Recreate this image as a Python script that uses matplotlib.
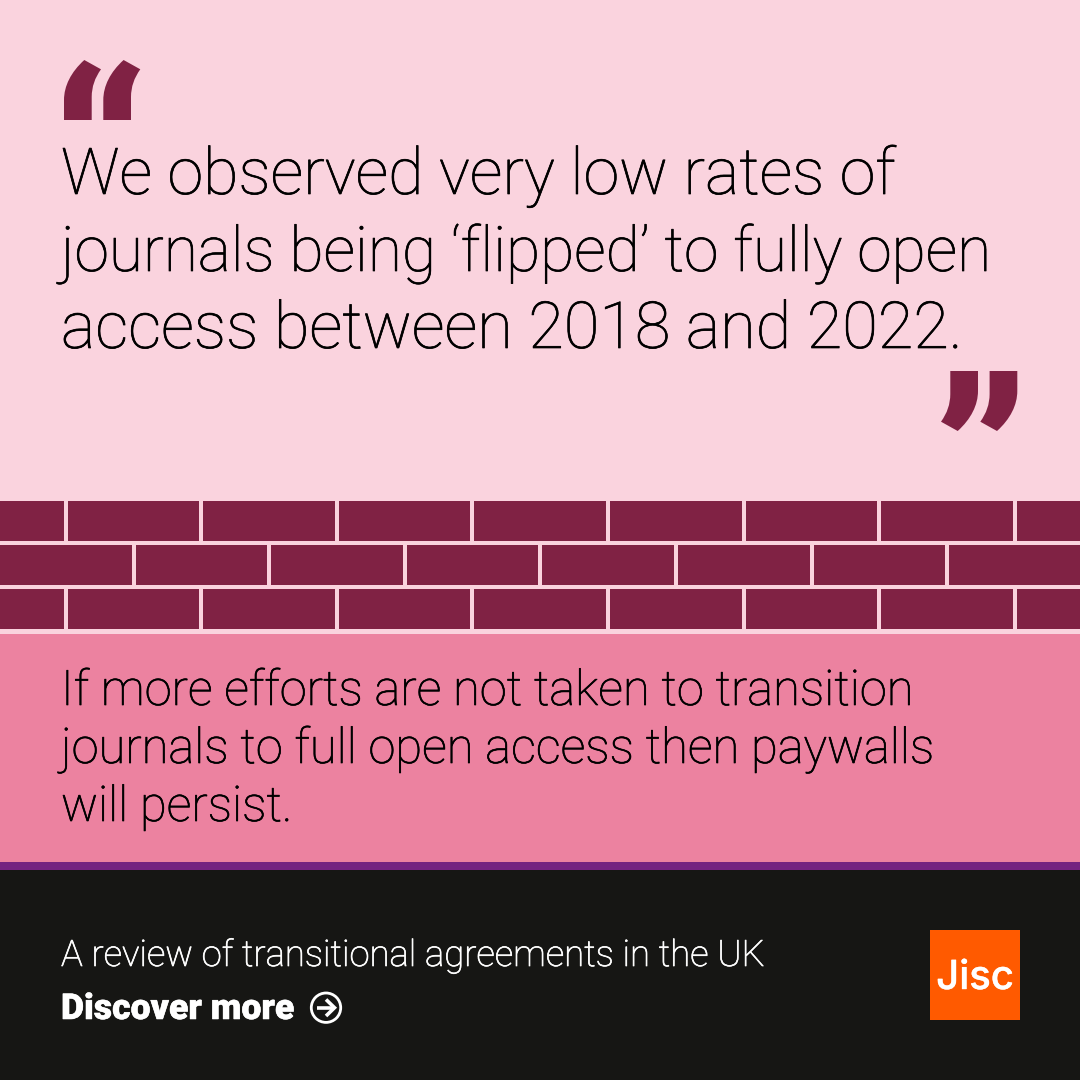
import matplotlib
matplotlib.use("Agg")
import matplotlib.pyplot as plt
import matplotlib.patheffects as pe
from matplotlib.patches import PathPatch, Circle, Rectangle
from matplotlib.path import Path

PALE = "#FAD3DE"
BRICK = "#802244"
PINK = "#EC82A0"
PURPLE = "#752380"
BLACK = "#161614"
ORANGE = "#FF5A00"

quote_lines = ["We observed very low rates of",
               "journals being ‘flipped’ to fully open",
               "access between 2018 and 2022."]
quote_sizes = [64.6, 62.3, 64.9]
body_lines = ["If more efforts are not taken to transition",
              "journals to full open access then paywalls",
              "will persist."]
footer_title = "A review of transitional agreements in the UK"
footer_link = "Discover more"
logo_text = "Jisc"

# mortar gaps in the wall, one list per row
row_tops = [501, 545, 589]
row_gaps = [[65.5, 201, 336.5, 472, 608, 743.5, 879, 1014.7],
            [133.5, 269, 404.5, 540, 676, 811.5, 946.5],
            [65.5, 201, 336.5, 472, 608, 743.5, 879, 1014.7]]

fig = plt.figure(figsize=(10.8, 10.8), dpi=100, facecolor=PALE)
ax = fig.add_axes([0, 0, 1, 1])
ax.set_xlim(0, 1080)
ax.set_ylim(1080, 0)
ax.axis("off")

def px(size):
    return size * 0.72

def band(y0, y1, color):
    ax.add_patch(Rectangle((0, y0), 1080, y1 - y0, fc=color, ec="none"))

def light_text(x, y, text, size, color):
    # thin stroke brings Roboto Light up to the weight of the reference
    t = ax.text(x, y, text, family="Roboto", weight="light", fontsize=px(size),
                color=color, va="baseline")
    t.set_path_effects([pe.withStroke(linewidth=0.5, foreground=color)])

def quote_mark(dx, closing=False):
    verts = [(64, 120), (91.7, 120), (91.7, 96.7), (91.7, 82), (101, 69.3),
             (84.3, 60), (71, 72), (64, 86), (64, 100), (64, 120)]
    codes = [Path.MOVETO, Path.LINETO, Path.LINETO, Path.CURVE3, Path.CURVE3,
             Path.LINETO, Path.CURVE4, Path.CURVE4, Path.CURVE4, Path.CLOSEPOLY]
    if closing:
        # same glyph turned half way round
        verts = [(1042 - x, 491 - y) for x, y in verts]
    verts = [(x + dx, y) for x, y in verts]
    ax.add_patch(PathPatch(Path(verts, codes), fc=BRICK, ec="none"))

quote_mark(0)
quote_mark(39.3)
quote_mark(0, closing=True)
quote_mark(39.3, closing=True)

for y, text, size in zip([194, 271, 348], quote_lines, quote_sizes):
    light_text(61, y, text, size, "black")

# bricks
for top, gaps in zip(row_tops, row_gaps):
    ax.add_patch(Rectangle((0, top), 1080, 40, fc=BRICK, ec="none"))
    for g in gaps:
        ax.add_patch(Rectangle((g - 2, top), 4, 40, fc=PALE, ec="none"))

band(634, 862, PINK)
for y, text in zip([705, 763, 821], body_lines):
    light_text(61, y, text, 48.9, "black")

band(862, 870, PURPLE)
band(870, 1080, BLACK)

light_text(61, 966, footer_title, 36.45, "white")
link = ax.text(61, 1019, footer_link, family="Roboto", weight="black", fontsize=px(35.6),
               color="white", va="baseline")
link.set_path_effects([pe.withStroke(linewidth=0.4, foreground="white")])

# arrow in a ring after the link
ax.add_patch(Circle((326, 1007.7), 14.7, fc="none", ec="white", lw=px(2.8)))
ax.plot([316.5, 334], [1007.7, 1007.7], color="white", lw=px(3.6), solid_capstyle="butt")
ax.plot([326, 334.5, 326], [999.5, 1007.7, 1016], color="white", lw=px(3.6),
        solid_joinstyle="miter", solid_capstyle="butt")

ax.add_patch(Rectangle((930, 930), 90, 90, fc=ORANGE, ec="none"))
logo = ax.text(975, 989, logo_text, family="Inter", weight="medium", fontsize=px(40),
               color="white", va="baseline", ha="center")
logo.set_path_effects([pe.withStroke(linewidth=0.3, foreground="white")])

fig.savefig("out.png", dpi=100, facecolor=PALE)
